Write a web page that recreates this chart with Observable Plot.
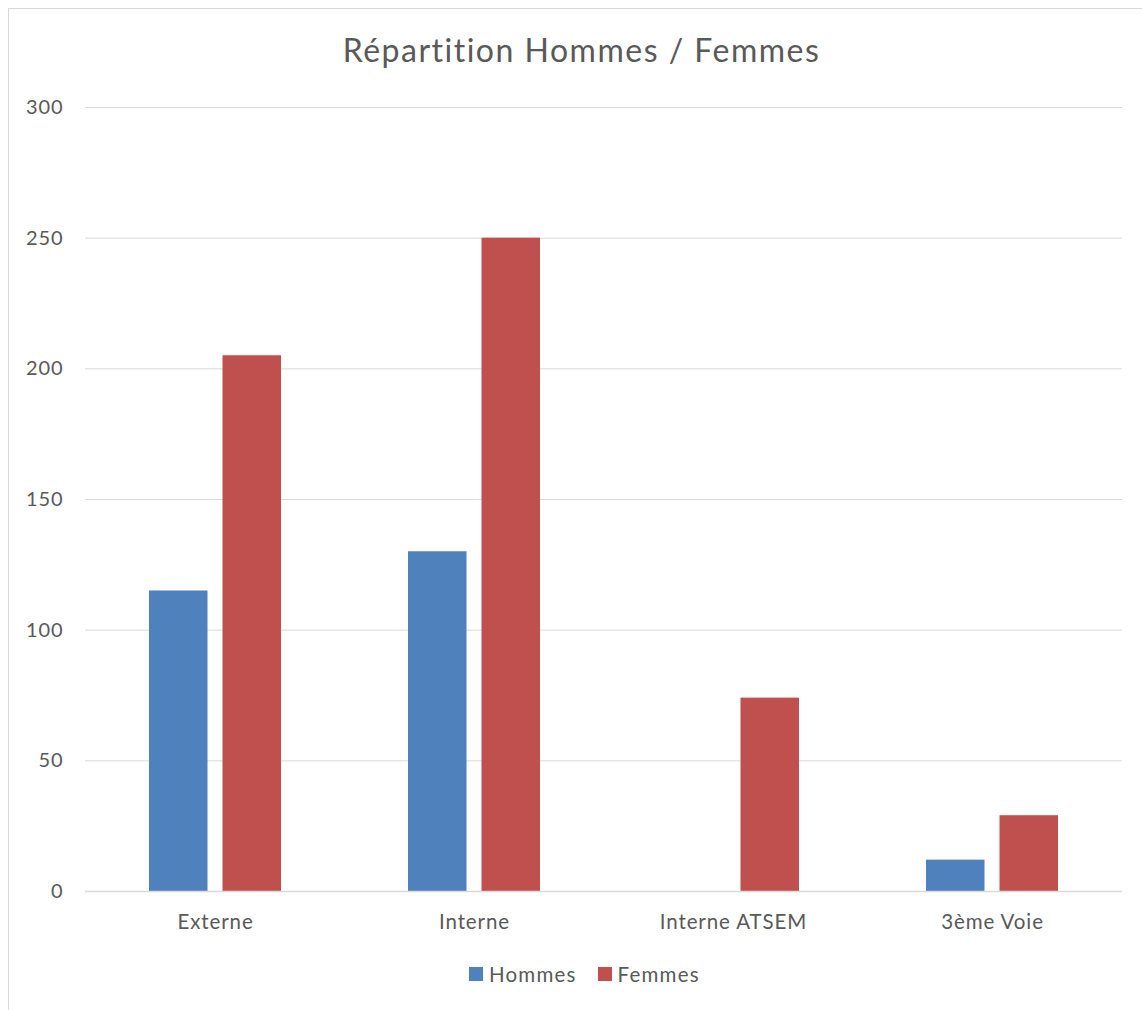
<!DOCTYPE html>
<html>
<head>
<meta charset="utf-8">
<script src="https://cdn.jsdelivr.net/npm/d3@7"></script>
<script src="https://cdn.jsdelivr.net/npm/@observablehq/plot@0.6"></script>
<style>
  html, body { margin: 0; padding: 0; background: #fff; width: 1142px; height: 1010px; overflow: hidden; }
  body { font-family: Lato, "Open Sans", sans-serif; color: #595959; position: relative; }
  #frame { position: absolute; left: 8px; top: 8px; width: 1300px; height: 1200px; border: 1px solid #d9d9d9; box-sizing: border-box; }
  #chart { position: absolute; left: 0; top: 0; }
  #title { position: absolute; left: 0; top: 30px; width: 1163px; text-align: center; font-size: 32px; letter-spacing: 1.5px; line-height: 40px; color: #595959; }
  #legend { position: absolute; top: 960px; left: 469px; display: flex; align-items: center; font-size: 20.5px; letter-spacing: 1.2px; line-height: 28px; color: #595959; }
  .sw { display: inline-block; width: 14px; height: 14px; margin-right: 6px; }
  .item { display: flex; align-items: center; margin-right: 21px; }
  #chart svg text { letter-spacing: 0.9px; }
</style>
</head>
<body>
<div id="frame"></div>
<div id="chart"></div>
<div id="title"></div>
<div id="legend"></div>
<script>
const categories = ["Externe", "Interne", "Interne ATSEM", "3ème Voie"];
const seriesNames = ["Hommes", "Femmes"];
const hommes = [115, 130, 0, 12];
const femmes = [205, 250, 74, 29];
const yTicks = [0, 50, 100, 150, 200, 250, 300];
const seriesColors = ["#4F81BD", "#C0504D"];
const titleText = "Répartition Hommes / Femmes";

const dataH = categories.map((c, i) => ({category: c, series: "Hommes", value: hommes[i]}));
const dataF = categories.map((c, i) => ({category: c, series: "Femmes", value: femmes[i]}));

const chart = Plot.plot({
  width: 1142,
  height: 950,
  marginLeft: 85,
  marginRight: 20,
  marginTop: 107,
  marginBottom: 59,
  style: {fontFamily: "Lato, 'Open Sans', sans-serif", fontSize: "20px", color: "#595959", background: "transparent"},
  x: {domain: categories, paddingInner: 0.49, paddingOuter: 0.245, label: null},
  y: {domain: [0, 300], label: null},
  color: {domain: seriesNames, range: seriesColors},
  marks: [
    Plot.gridY(yTicks, {stroke: "#d9d9d9", strokeOpacity: 1, strokeWidth: 1}),
    Plot.barY(dataH, {x: "category", y: "value", fill: "series", insetLeft: 0, insetRight: 73.5}),
    Plot.barY(dataF, {x: "category", y: "value", fill: "series", insetLeft: 73.5, insetRight: 0}),
    Plot.ruleY([0], {stroke: "#d9d9d9", strokeWidth: 1.5}),
    Plot.axisY(yTicks, {tickSize: 0, tickPadding: 22, label: null, fill: "#595959", fontSize: 20}),
    Plot.axisX({tickSize: 0, tickPadding: 23, label: null, fill: "#595959", fontSize: 20.5})
  ]
});
document.getElementById("chart").appendChild(chart);

document.getElementById("title").textContent = titleText;
const legend = document.getElementById("legend");
seriesNames.forEach((s, i) => {
  const item = document.createElement("span");
  item.className = "item";
  const sw = document.createElement("span");
  sw.className = "sw";
  sw.style.background = seriesColors[i];
  item.appendChild(sw);
  item.appendChild(document.createTextNode(s));
  legend.appendChild(item);
});
</script>
</body>
</html>
